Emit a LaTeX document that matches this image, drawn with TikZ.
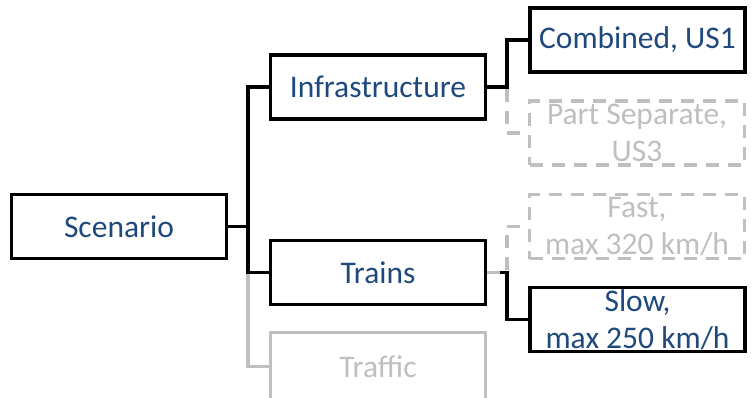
\documentclass[tikz,border=0pt]{standalone}
\usepackage{fontspec}
\setmainfont{Carlito}
\definecolor{tblue}{RGB}{31,73,125}
\definecolor{lgray}{RGB}{191,191,191}
\begin{document}
\begin{tikzpicture}[x=1pt,y=-1pt,
  box/.style={draw=black, line width=3.4pt, minimum width=215pt, minimum height=64pt, inner sep=0pt, align=center, text=tblue, font=\fontsize{31.5}{37}\selectfont},
  gbox/.style={box, draw=lgray, text=lgray},
  dbox/.style={gbox, dash pattern=on 13pt off 9pt},
  conn/.style={line width=3.4pt, draw=black},
  gconn/.style={line width=3.4pt, draw=lgray},
  dconn/.style={gconn, dash pattern=on 13pt off 9pt}]
\useasboundingbox (0,0) rectangle (752,397);
\node[box] (scen) at (119,226.5) {Scenario};
\node[box] (infra) at (378,87) {Infrastructure};
\node[box] (trains) at (378,272.5) {Trains};
\node[gbox, minimum height=68pt] (traffic) at (378,366.5) {Traffic};
\node[box] (comb) at (637.5,40) {Combined, US1};
\node[dbox] (part) at (637,133) {Part Separate,\\US3};
\node[dbox] (fast) at (637,226.5) {Fast,\\max 320 km/h};
\node[box] (slow) at (637.5,319.5) {Slow,\\max 250 km/h};
\coordinate (j1) at (248,226.5);
\coordinate (j2) at (507,87);
\coordinate (j3) at (507,272.5);
\draw[gconn] (j1) |- (traffic.west);
\draw[conn] (scen.east) -- (j1) |- (infra.west);
\draw[conn] (j1) |- (trains.west);
\draw[dconn] (infra.east) -- (j2) |- (part.west);
\draw[conn] (infra.east) -- (j2) |- (comb.west);
\draw[conn] (trains.east) -- (j3) |- (slow.west);
\draw[dconn] (trains.east) -- (j3) |- (fast.west);
\end{tikzpicture}
\end{document}
